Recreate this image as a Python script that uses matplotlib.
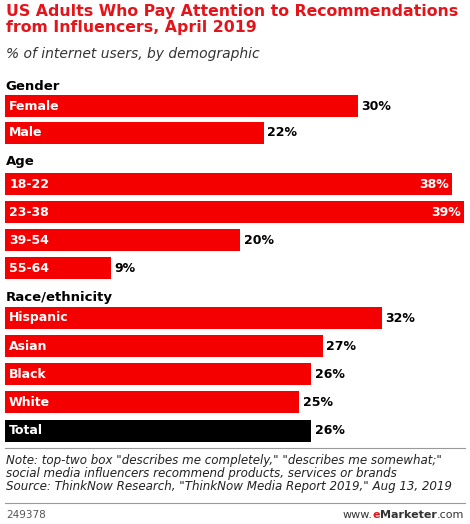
import matplotlib
matplotlib.use("Agg")
import matplotlib.pyplot as plt
from matplotlib.lines import Line2D

groups = ["Gender", "Age", "Race/ethnicity"]
categories = ["Female", "Male", "18-22", "23-38", "39-54", "55-64",
              "Hispanic", "Asian", "Black", "White", "Total"]
values = [30, 22, 38, 39, 20, 9, 32, 27, 26, 25, 26]

W, H = 470, 524
fig = plt.figure(figsize=(W/100, H/100), dpi=100)
fig.patch.set_facecolor("white")

def fx(px): return px / W
def fy(py): return 1 - py / H

fig.text(fx(6), fy(4), "US Adults Who Pay Attention to Recommendations\nfrom Influencers, April 2019",
         color="#e4141b", fontsize=11.3, fontweight="bold", va="top", ha="left", linespacing=1.05)
fig.text(fx(6), fy(47), "% of internet users, by demographic", fontsize=10, style="italic",
         va="top", ha="left", color="#333333")

ax = fig.add_axes([fx(5), fy(445), fx(464) - fx(5), fy(75) - fy(445)])
ax.set_xlim(0, 39)
ax.set_ylim(445, 75)
ax.axis("off")

bar_y = [106, 133, 184, 212, 240, 268, 318, 346, 374, 402, 431]
head_y = [86, 162, 297]
for g, y in zip(groups, head_y):
    ax.text(0.05, y, g, fontsize=9.5, fontweight="bold", va="center", ha="left")
for c, v, y in zip(categories, values, bar_y):
    col = "black" if c == "Total" else "#f50000"
    ax.barh(y, v, height=22, color=col, left=0)
    ax.text(0.35, y, c, color="white", fontsize=9, fontweight="bold", va="center", ha="left")
    if v >= 35:
        ax.text(v - 0.3, y, f"{v}%", color="white", fontsize=9, fontweight="bold", va="center", ha="right")
    else:
        ax.text(v + 0.3, y, f"{v}%", color="black", fontsize=9, fontweight="bold", va="center", ha="left")

fig.add_artist(Line2D([fx(5), fx(465)], [fy(448), fy(448)], color="#999999", lw=0.8))
fig.text(fx(6), fy(454), "Note: top-two box \"describes me completely,\" \"describes me somewhat;\"\n"
         "social media influencers recommend products, services or brands\n"
         "Source: ThinkNow Research, \"ThinkNow Media Report 2019,\" Aug 13, 2019",
         fontsize=8.6, style="italic", va="top", ha="left", color="#222222", linespacing=1.0)
fig.add_artist(Line2D([fx(5), fx(465)], [fy(503), fy(503)], color="#999999", lw=0.8))
fig.text(fx(6), fy(515), "249378", fontsize=7.5, va="center", ha="left", color="#555555")

# footer logo text, placed right to left
renderer = fig.canvas.get_renderer()
parts = [(".com", "normal", "#333333"), ("Marketer", "bold", "#333333"),
         ("e", "bold", "#e4141b"), ("www.", "normal", "#333333")]
xr = 464
for s, wgt, c in parts:
    t = fig.text(fx(xr), fy(515), s, fontsize=8, fontweight=wgt, color=c, va="center", ha="right")
    xr -= t.get_window_extent(renderer).width

fig.savefig("out.png", dpi=100)
